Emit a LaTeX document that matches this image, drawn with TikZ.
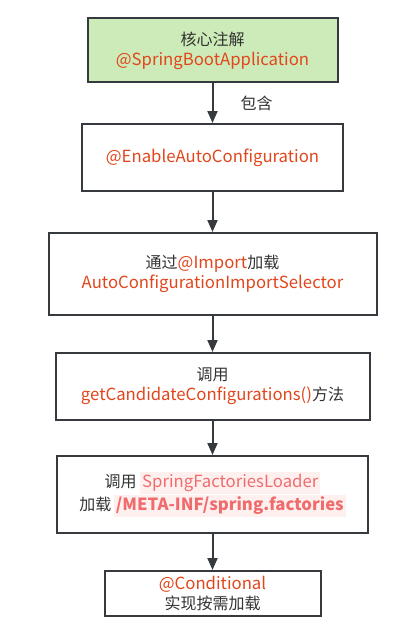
\documentclass[tikz,border=0pt]{standalone}
\usepackage{fontspec}
\setmainfont{Noto Sans CJK SC}
\usepackage{xcolor}
\usepackage{tikz}
\usetikzlibrary{arrows.meta}
\definecolor{boxline}{HTML}{36393D}
\definecolor{annred}{HTML}{E1461C}
\definecolor{hlred}{HTML}{F06C6C}
\definecolor{hlback}{HTML}{FFF0F0}
\definecolor{bootgreen}{HTML}{CCEBB8}
\definecolor{plaintext}{HTML}{333333}
\newcommand{\ann}[1]{{\fontsize{12.55}{15}\selectfont\textcolor{annred}{#1}}}
\newcommand{\hlbox}[1]{{\fontsize{12.55}{15}\selectfont\fboxsep=1.5pt\colorbox{hlback}{\textcolor{hlred}{#1}}}}

\begin{document}
\begin{tikzpicture}[x=0.75pt,y=-0.75pt,
        flowbox/.style={draw=boxline,line width=1.5pt,align=center,text=plaintext,font=\fontsize{12}{15}\selectfont,inner sep=0pt},
        flowarrow/.style={draw=boxline,line width=1.5pt,-{Triangle[width=7.5pt,length=9pt]}}]
        \useasboundingbox (0,0) rectangle (415,635);

        \node[flowbox,fill=bootgreen,minimum width=187.5pt,minimum height=48pt] (boot) at (212.5,50.5) {核心注解\\\ann{@SpringBootApplication}};
        \node[flowbox,minimum width=195.75pt,minimum height=50.25pt] (enable) at (212.5,157.5) {\ann{@EnableAutoConfiguration}};
        \node[flowbox,minimum width=246pt,minimum height=61.5pt] (import) at (212.5,274) {通过\ann{@Import}加载\\\ann{AutoConfigurationImportSelector}};
        \node[flowbox,minimum width=235.5pt,minimum height=50.25pt] (candidate) at (212.5,386.5) {调用\\\ann{getCandidateConfigurations()}方法};
        \node[flowbox,minimum width=233.25pt,minimum height=57.75pt] (loader) at (212.5,494.5) {调用\ \hlbox{SpringFactoriesLoader}\\加载\,\hlbox{\bfseries /META-INF/spring.factories}};
        \node[flowbox,minimum width=162pt,minimum height=33.75pt] (cond) at (212.5,593.5) {\ann{@Conditional}\\实现按需加载};

        \draw[flowarrow] (boot) -- (enable) node[midway,right,xshift=17pt,text=plaintext,font=\fontsize{12}{15}\selectfont] {包含};
        \draw[flowarrow] (enable) -- (import);
        \draw[flowarrow] (import) -- (candidate);
        \draw[flowarrow] (candidate) -- (loader);
        \draw[flowarrow] (loader) -- (cond);
    \end{tikzpicture}
\end{document}
